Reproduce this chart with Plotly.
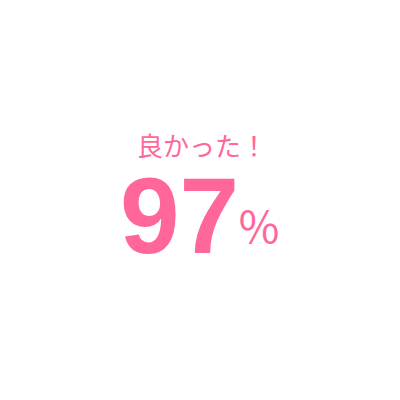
import plotly.graph_objects as go

# Single KPI card
label = "良かった！"
value = 97
unit = "％"

PINK = "#ff6699"

fig = go.Figure()

fig.add_annotation(
    x=0.5, y=0.5, xref="paper", yref="paper",
    text=label,
    showarrow=False,
    yanchor="middle",
    xshift=-6, yshift=64,
    font=dict(family="Noto Sans CJK JP", size=26, color=PINK),
)

fig.add_annotation(
    x=0.5, y=0.5, xref="paper", yref="paper",
    text=f"<b>{value}</b>",
    showarrow=False,
    xanchor="right", yanchor="middle",
    xshift=33, yshift=-8,
    font=dict(family="Liberation Sans, Arial", size=107, color=PINK),
)

fig.add_annotation(
    x=0.5, y=0.5, xref="paper", yref="paper",
    text=unit,
    showarrow=False,
    xanchor="left", yanchor="middle",
    xshift=27, yshift=-17,
    font=dict(family="Noto Sans CJK JP", size=44, color=PINK),
)

fig.update_xaxes(visible=False)
fig.update_yaxes(visible=False)
fig.update_layout(
    width=400, height=400,
    margin=dict(l=0, r=0, t=0, b=0),
    paper_bgcolor="white",
    plot_bgcolor="white",
)

fig.write_html("out.html")
